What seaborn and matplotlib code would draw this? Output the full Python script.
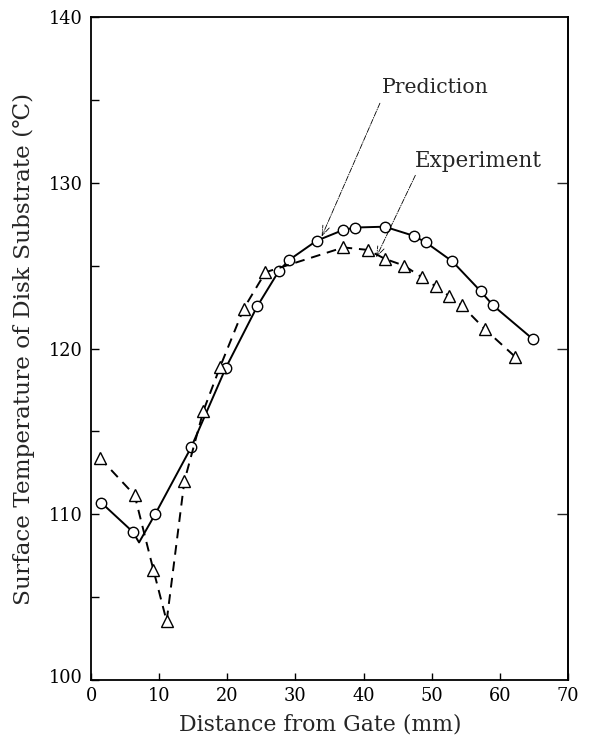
import numpy as np
import pandas as pd
import matplotlib
matplotlib.use("Agg")
import matplotlib.pyplot as plt
import seaborn as sns

# Prediction curve (the point at 7.05 mm is the curve minimum, drawn without a marker)
pred_x = [1.5, 6.1, 7.05, 9.45, 14.7, 19.8, 24.4, 27.6, 29.1, 33.1, 37.0, 38.8,
          43.1, 47.35, 49.15, 53.05, 57.2, 59.0, 64.9]
pred_t = [110.7, 108.95, 108.3, 110.03, 114.04, 118.85, 122.55, 124.7, 125.35,
          126.5, 127.15, 127.3, 127.35, 126.8, 126.4, 125.25, 123.45, 122.6, 120.55]
pred_marked = [i for i in range(len(pred_x)) if i != 2]

# Measured surface temperature
exp_x = [1.3, 6.4, 9.15, 11.1, 13.7, 16.5, 18.95, 22.4, 25.6, 37.05, 40.6, 43.2,
         45.95, 48.55, 50.6, 52.6, 54.4, 57.85, 62.25]
exp_t = [113.4, 111.15, 106.65, 103.55, 112.0, 116.25, 118.9, 122.4, 124.6, 126.1,
         125.95, 125.4, 125.0, 124.3, 123.75, 123.15, 122.6, 121.15, 119.5]

x_ticks = [0, 10, 20, 30, 40, 50, 60, 70]
y_ticks = [100, 110, 120, 130, 140]

sns.set_style("ticks")
plt.rcParams["font.family"] = ["DejaVu Serif"]

fig = plt.figure(figsize=(5.93, 7.47), dpi=100)
ax = fig.add_axes([0.1535, 0.0897, 0.8043, 0.8875])

pred_df = pd.DataFrame({"x": pred_x, "t": pred_t})
exp_df = pd.DataFrame({"x": exp_x, "t": exp_t})

sns.lineplot(data=pred_df, x="x", y="t", ax=ax, sort=False, color="black",
             linewidth=1.4, marker="o", markevery=pred_marked, markersize=7.5,
             markerfacecolor="white", markeredgecolor="black", markeredgewidth=1.0,
             zorder=3)
sns.lineplot(data=exp_df, x="x", y="t", ax=ax, sort=False, color="black",
             linewidth=1.4, linestyle=(0, (5, 3.5)), marker="^", markersize=8,
             markerfacecolor="white", markeredgecolor="black", markeredgewidth=1.0,
             zorder=3)

ax.set_xlim(0, 70)
ax.set_ylim(100, 140)
ax.set_xticks(x_ticks)
ax.set_yticks(y_ticks)
ax.set_yticks([105, 115, 125, 135], minor=True)
ax.tick_params(axis="both", which="both", direction="in", labelsize=12.8,
               colors="black", width=1.0)
ax.tick_params(axis="x", which="major", length=5, pad=5)
ax.tick_params(axis="y", which="major", length=6, pad=6)
ax.tick_params(axis="y", which="minor", length=6)

# lift the bottom y label clear of the x origin label
fig.canvas.draw()
from matplotlib.transforms import ScaledTranslation
for lbl in ax.get_yticklabels():
    if lbl.get_text() == "100":
        lbl.set_transform(lbl.get_transform() + ScaledTranslation(0, 0.04, fig.dpi_scale_trans))

# inward ticks on the right frame
ax_r = ax.secondary_yaxis("right")
ax_r.set_yticks([110, 120, 130])
ax_r.tick_params(direction="in", length=8, labelright=False, width=1.0)

for s in ax.spines.values():
    s.set_linewidth(1.3)
    s.set_color("black")
for s in ax_r.spines.values():
    s.set_linewidth(1.3)

ax.set_xlabel("Distance from Gate (mm)", fontsize=15.8)
ax.xaxis.set_label_coords(0.481, -0.05)
ax.set_ylabel("Surface Temperature of Disk Substrate (\u2103)", fontsize=16.7)
ax.yaxis.set_label_coords(-0.118, 0.5)

arrow = dict(arrowstyle="->,head_length=0.7,head_width=0.25", color="black",
             linewidth=0.6, linestyle="-.", shrinkA=0, shrinkB=0)
ax.annotate("", xy=(33.85, 126.75), xytext=(42.4, 134.8), arrowprops=arrow)
ax.annotate("", xy=(41.85, 125.5), xytext=(47.6, 130.45), arrowprops=arrow)
ax.text(50.5, 135.75, "Prediction", fontsize=14.7, ha="center", va="center")
ax.text(56.8, 131.3, "Experiment", fontsize=15.5, ha="center", va="center")

fig.savefig("out.png", dpi=100)
